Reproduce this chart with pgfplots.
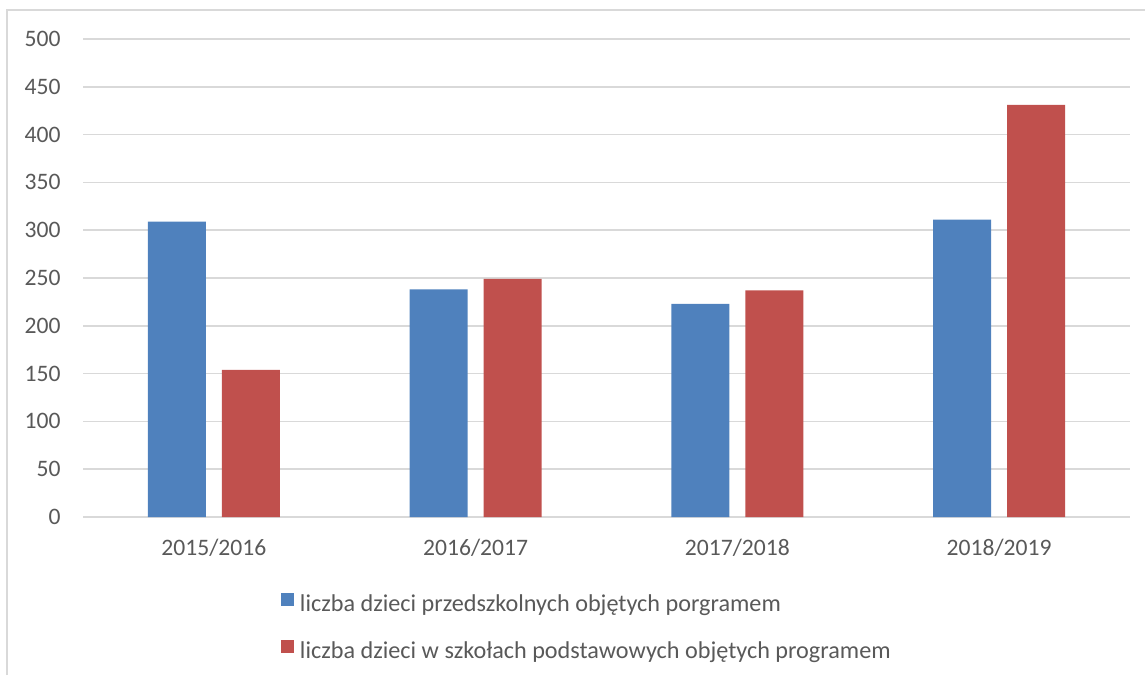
\documentclass[border=0pt]{standalone}
\usepackage{pgfplots}
\pgfplotsset{compat=1.18}
\usepackage{fontspec}
\setmainfont{Carlito}
\definecolor{sblue}{HTML}{4F81BD}
\definecolor{sred}{HTML}{C0504D}
\definecolor{gridc}{HTML}{D9D9D9}
\definecolor{txt}{HTML}{595959}
\begin{document}
\fontsize{11.8}{14}\selectfont
\begin{tikzpicture}
\useasboundingbox (0pt,0pt) rectangle (572.5pt,-337.5pt);
\draw[gridc, line width=0.75pt] (3.5pt,-337.5pt) -- (3.5pt,-5pt) -- (572.5pt,-5pt);
\begin{axis}[
  at={(41.5pt,-258.5pt)}, anchor=south west,
  scale only axis, width=523.5pt, height=239pt,
  xmin=-0.5, xmax=3.5, ymin=0, ymax=500,
  ytick={0,50,...,500},
  xtick={0,1,2,3},
  xticklabels={2015/2016,2016/2017,2017/2018,2018/2019},
  ymajorgrids, grid style={gridc, line width=0.75pt},
  axis line style={draw=none},
  major tick length=0pt,
  tick style={draw=none},
  ticklabel style={font=\fontsize{11.8}{14}\selectfont, text=txt},
  yticklabel style={anchor=east, inner sep=0pt, xshift=-11pt},
  xticklabel style={anchor=center, inner sep=0pt, yshift=-15.5pt},
  /pgf/number format/assume math mode=true,
  ybar=8pt, bar width=29pt,
  legend style={at={(0.1891,-0.159)}, anchor=north west, draw=none, fill=none,
    inner sep=0pt, outer sep=0pt, /tikz/row sep=10.5pt, /tikz/column sep=2pt,
    font=\fontsize{12.1}{14}\selectfont,
    nodes={inner sep=1pt, text=txt, text height=8pt, text depth=2.5pt}},
  legend cell align=left,
  legend image code/.code={\fill[#1] (0pt,0pt) rectangle (6.5pt,6.5pt);},
]
\addplot[fill=sblue, draw=none] coordinates {(0,309) (1,238) (2,223) (3,311)};
\addplot[fill=sred, draw=none] coordinates {(0,154) (1,249) (2,237) (3,431)};
\legend{liczba dzieci przedszkolnych objętych porgramem, liczba dzieci w szkołach podstawowych objętych programem}
\end{axis}
\end{tikzpicture}
\end{document}
